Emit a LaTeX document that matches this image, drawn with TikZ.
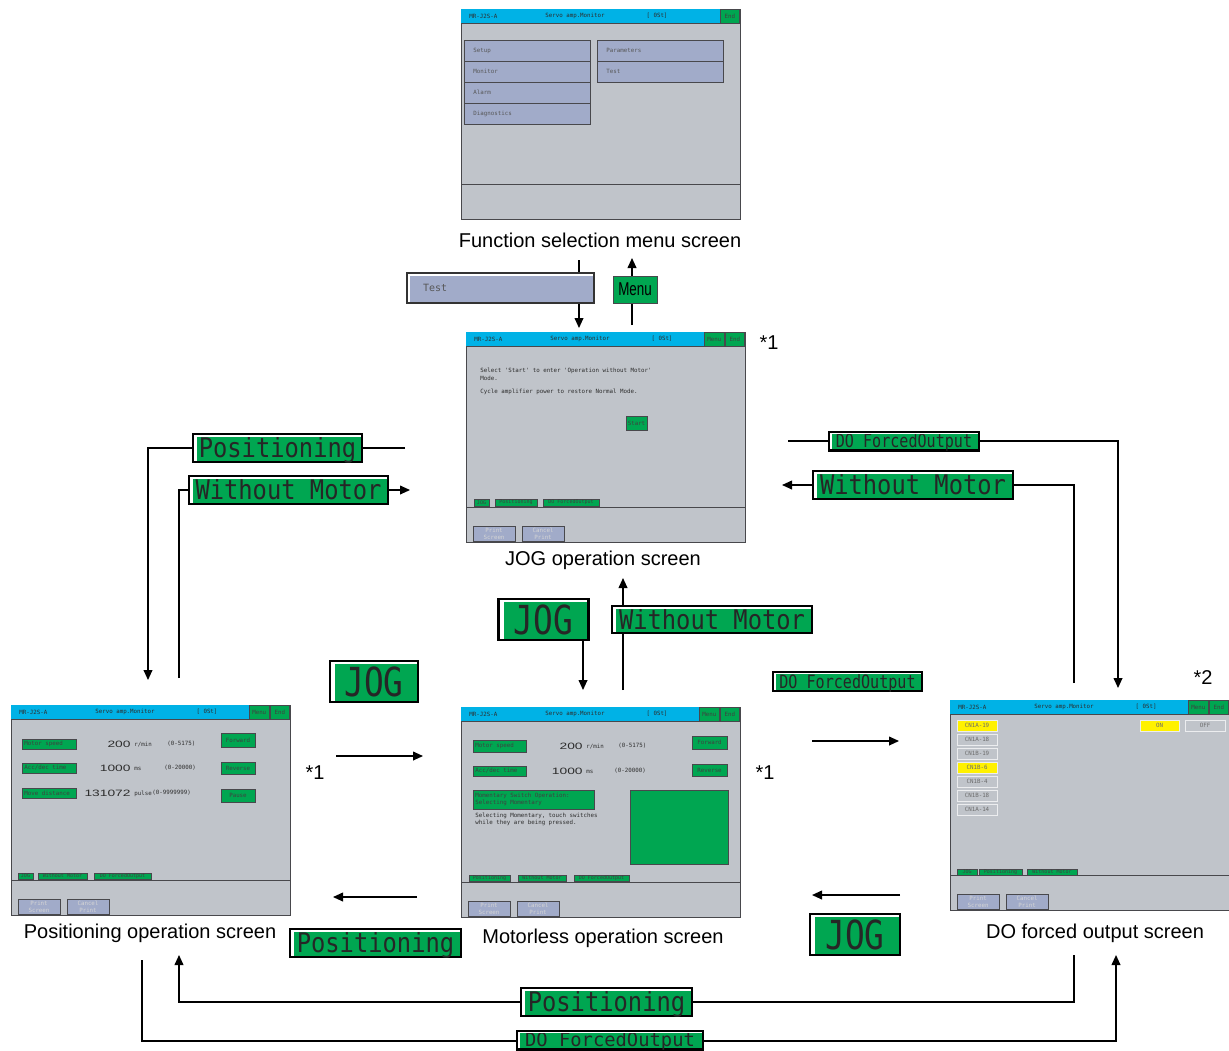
\documentclass[tikz,border=0pt]{standalone}
\usepackage{fontspec}
\setmainfont{Liberation Sans}
\newfontfamily\pixfont{DejaVu Sans Mono}
\newfontfamily\keyfont[FakeStretch=0.82]{DejaVu Sans Mono}
\newfontfamily\wordfont[FakeStretch=0.88]{DejaVu Sans Mono}
\newfontfamily\narrowfont[FakeStretch=0.72]{Liberation Sans}
\newfontfamily\numfont[FakeStretch=1.5]{Liberation Sans}
\usetikzlibrary{arrows.meta,calc,positioning}
\definecolor{hmiCyan}{RGB}{0,178,230}
\definecolor{hmiGray}{RGB}{192,196,202}
\definecolor{hmiEdge}{RGB}{72,72,76}
\definecolor{hmiGreen}{RGB}{0,166,81}
\definecolor{hmiBlue}{RGB}{161,171,201}
\definecolor{hmiYellow}{RGB}{255,241,0}
\definecolor{hmiInk}{RGB}{45,45,45}
\newcommand{\hmikey}[7][gkey]{%
  \path[#1] (#3,#4) rectangle (#5,#6);
  \node[#1 text] (#2) at ({(#3+#5)/2},{(#4+#6)/2}) {#7};
}
\newcommand{\hmikeyL}[7][gkey]{%
  \path[#1] (#3,#4) rectangle (#5,#6);
  \node[#1 text, anchor=west, align=left] (#2) at ({#3+2},{(#4+#6)/2}) {#7};
}
\newcommand{\hmiframe}[3]{% name, menu key, print keys
  \node[screen, anchor=north west] (#1) at (0,0) {};
  \fill[hmiCyan] (0.3,0.3) rectangle (278.7,14);
  \draw[hmiEdge, line width=0.3pt] (0,14) -- (279,14);
  \node[scrtxt, anchor=west] (#1-model) at (8,7) {MR-J2S-A};
  \node[scrtxt] (#1-head) at (114,7) {Servo amp.Monitor};
  \node[scrtxt] (#1-st) at (196,7) {[ 0St]};
  \hmikey{#1-end}{259}{0.5}{278.7}{14}{End}
  \ifnum#2=1 \hmikey{#1-menu}{238}{0.5}{258.5}{14}{Menu}\fi
  \draw[hmiEdge, line width=0.4pt] (0,175) -- (279,175);
  \ifnum#3=1
    \hmikey[pkey]{#1-print}{7}{194}{49}{209.5}{Print\\Screen}
    \hmikey[pkey]{#1-cancel}{56}{194}{98}{209.5}{Cancel\\Print}
  \fi
}
% white edge left/top of a touch key
\newcommand{\keyshine}[3]{% node, left strip, top strip
  \draw[white, line width=#2] ([xshift={0.6pt+0.5*#2},yshift=0.6pt]#1.south west)
    -- ([xshift={0.6pt+0.5*#2},yshift=-0.6pt]#1.north west);
  \draw[white, line width=#3] ([xshift=0.6pt,yshift={-0.6pt-0.5*#3}]#1.north west)
    -- ([xshift=-0.6pt,yshift={-0.6pt-0.5*#3}]#1.north east);
}
\tikzset{
  screen/.style={draw=hmiEdge, fill=hmiGray, line width=0.5pt, minimum width=139.5pt,
    minimum height=105pt, inner sep=0pt, outer sep=0pt},
  scrtxt/.style={inner sep=0pt, text=hmiInk, font=\pixfont\fontsize{2.9}{3.5}\selectfont},
  numtxt/.style={inner sep=0pt, text=hmiInk, font=\numfont\fontsize{4.6}{5}\selectfont},
  gkey/.style={fill=hmiGreen, draw=hmiEdge, line width=0.3pt},
  gkey text/.style={scrtxt, text=black!75},
  tkey/.style={gkey},
  tkey text/.style={scrtxt, text=black!75, font=\pixfont\fontsize{2.5}{3}\selectfont},
  mkey/.style={fill=hmiBlue, draw=hmiEdge, line width=0.4pt},
  mkey text/.style={scrtxt, text=hmiInk!80, xshift=3.5pt},
  pkey/.style={fill=hmiBlue, draw=hmiEdge, line width=0.4pt},
  pkey text/.style={scrtxt, text=white!80!hmiInk, align=center, font=\pixfont\fontsize{2.9}{3.2}\selectfont},
  ykey/.style={fill=hmiYellow, draw=white!70!hmiGray, line width=0.4pt},
  ykey text/.style={scrtxt, text=hmiInk!70},
  okey/.style={fill=hmiGray, draw=white!70!hmiGray, line width=0.4pt},
  okey text/.style={scrtxt, text=hmiInk!70},
  bigkey/.style={draw=black, fill=hmiGreen, line width=1.2pt, inner sep=0pt, outer sep=0pt, text=black!85},
  wordkey/.style={bigkey, font=\wordfont\fontsize{13.5}{14}\selectfont, text height=9.9pt, text depth=0pt,
    minimum height=14pt},
  jogkey/.style={bigkey, font=\keyfont\fontsize{20}{21}\selectfont, text height=14.6pt, text depth=0pt,
    minimum width=45pt, minimum height=20.5pt},
  dokey/.style={bigkey, font=\keyfont\fontsize{9.2}{10}\selectfont, text height=6.7pt, text depth=0pt,
    minimum width=75pt, minimum height=9.3pt},
  testkey/.style={fill=hmiBlue, draw=black!80, line width=0.8pt, outer sep=0pt, minimum height=15pt,
    text width=77.5pt, inner xsep=8pt, align=left, text=hmiInk!80, font=\pixfont\fontsize{5}{6}\selectfont},
  menukey/.style={fill=hmiGreen, draw=hmiEdge, line width=0.5pt, outer sep=0pt, minimum width=22pt,
    minimum height=13.5pt, inner sep=0pt, text=black, font=\narrowfont\fontsize{9.3}{10}\selectfont},
  caption/.style={inner sep=0pt, font=\fontsize{10}{12}\selectfont},
  link/.style={line width=0.7pt},
  arr/.style={link, -{Triangle[length=5pt,width=4.4pt]}},
}
\begin{document}
\begin{tikzpicture}[x=0.5pt,y=-0.5pt]
  \useasboundingbox (0,0) rectangle (1229,1050);

  % function selection menu
  \begin{scope}[shift={(461,9)}]
    \hmiframe{fsel}{0}{0}
    \foreach \t [count=\i from 0] in {Setup,Monitor,Alarm,Diagnostics}
      {\hmikeyL[mkey]{fsel-a\i}{3}{31+21*\i}{129}{52+21*\i}{\t}}
    \hmikeyL[mkey]{fsel-b0}{136}{31}{262}{52}{Parameters}
    \hmikeyL[mkey]{fsel-b1}{136}{52}{262}{73}{Test}
  \end{scope}
  \node[caption] (fsel-cap) at (600,240) {Function selection menu screen};

  % JOG operation
  \begin{scope}[shift={(466,332)}]
    \hmiframe{jog}{1}{1}
    \node[scrtxt, anchor=west] (jog-l1) at (14,39) {Select 'Start' to enter 'Operation without Motor'};
    \node[scrtxt, anchor=west] (jog-l2) at (14,46) {Mode.};
    \node[scrtxt, anchor=west] (jog-l3) at (14,60) {Cycle amplifier power to restore Normal Mode.};
    \hmikey{jog-start}{160}{84}{181}{98}{Start}
    \hmikey[tkey]{jog-t1}{8}{167}{23}{174}{JOG}
    \hmikey[tkey]{jog-t2}{29}{167}{71}{174}{Positioning}
    \hmikey[tkey]{jog-t3}{77}{167}{133}{174}{DO ForcedOutput}
  \end{scope}
  \node[caption] (jog-cap) at (603,560) {JOG operation screen};
  \node[caption] (jog-star) at (769,343) {*1};

  % positioning operation
  \begin{scope}[shift={(11,705)}]
    \hmiframe{pos}{1}{1}
    \hmikeyL{pos-k1}{11}{34}{65}{44}{Motor speed}
    \hmikeyL{pos-k2}{11}{58}{65}{68}{Acc/dec time}
    \hmikeyL{pos-k3}{11}{83}{65}{93}{Move distance}
    \node[numtxt, anchor=east] (pos-v1) at (120,39) {200};
    \node[scrtxt, anchor=west] (pos-u1) at (123,40) {r/min};
    \node[scrtxt, anchor=west] (pos-r1) at (156,39) {(0-5175)};
    \node[numtxt, anchor=east] (pos-v2) at (120,63) {1000};
    \node[scrtxt, anchor=west] (pos-u2) at (123,64) {ms};
    \node[scrtxt, anchor=west] (pos-r2) at (153,63) {(0-20000)};
    \node[numtxt, anchor=east] (pos-v3) at (120,88) {131072};
    \node[scrtxt, anchor=west] (pos-u3) at (123,89) {pulse};
    \node[scrtxt, anchor=west] (pos-r3) at (141,88) {(0-9999999)};
    \hmikey{pos-fwd}{210}{28}{244}{42}{Forward}
    \hmikey{pos-rev}{210}{57}{244}{69}{Reverse}
    \hmikey{pos-pause}{210}{84}{244}{97}{Pause}
    \hmikey[tkey]{pos-t1}{7}{168}{22}{174}{JOG}
    \hmikey[tkey]{pos-t2}{27}{168}{76}{174}{Without Motor}
    \hmikey[tkey]{pos-t3}{83}{168}{140}{174}{DO ForcedOutput}
  \end{scope}
  \node[caption] (pos-cap) at (150,933) {Positioning operation screen};

  % motorless operation
  \begin{scope}[shift={(461,707)}]
    \hmiframe{mless}{1}{1}
    \hmikeyL{mless-k1}{12}{33}{65}{45}{Motor speed}
    \hmikeyL{mless-k2}{12}{59}{65}{69}{Acc/dec time}
    \node[numtxt, anchor=east] (mless-v1) at (122,39) {200};
    \node[scrtxt, anchor=west] (mless-u1) at (125,40) {r/min};
    \node[scrtxt, anchor=west] (mless-r1) at (157,39) {(0-5175)};
    \node[numtxt, anchor=east] (mless-v2) at (122,64) {1000};
    \node[scrtxt, anchor=west] (mless-u2) at (125,65) {ms};
    \node[scrtxt, anchor=west] (mless-r2) at (153,64) {(0-20000)};
    \hmikey{mless-fwd}{231}{29}{266}{42}{Forward}
    \hmikey{mless-rev}{231}{57}{266}{69}{Reverse}
    \hmikeyL{mless-mom}{12}{83}{133}{102}{Momentary Switch Operation:\\Selecting Momentary}
    \node[scrtxt, anchor=north west, align=left] (mless-note) at (14,106) {Selecting Momentary, touch switches\\while they are being pressed.};
    \path[gkey, line width=0.5pt] (169,83) rectangle (267,157);
    \hmikey[tkey]{mless-t1}{8}{168}{49}{174}{Positioning}
    \hmikey[tkey]{mless-t2}{57}{168}{105}{174}{Without Motor}
    \hmikey[tkey]{mless-t3}{113}{168}{168}{174}{DO ForcedOutput}
  \end{scope}
  \node[caption] (mless-cap) at (603,938) {Motorless operation screen};
  \node[caption] (mless-star) at (315,773) {*1};
  \node[caption] (dofo-star1) at (765,773) {*1};

  % DO forced output
  \begin{scope}[shift={(950,700)}]
    \hmiframe{dofo}{1}{1}
    \hmikey[ykey]{dofo-c0}{7}{20}{47}{31}{CN1A-19}
    \hmikey[okey]{dofo-c1}{7}{34}{47}{45}{CN1A-18}
    \hmikey[okey]{dofo-c2}{7}{48}{47}{59}{CN1B-19}
    \hmikey[ykey]{dofo-c3}{7}{62}{47}{73}{CN1B-6}
    \hmikey[okey]{dofo-c4}{7}{76}{47}{87}{CN1B-4}
    \hmikey[okey]{dofo-c5}{7}{90}{47}{101}{CN1B-18}
    \hmikey[okey]{dofo-c6}{7}{104}{47}{115}{CN1A-14}
    \hmikey[ykey]{dofo-on}{190}{20}{229}{31}{ON}
    \hmikey[okey]{dofo-off}{235}{20}{275}{31}{OFF}
    \hmikey[tkey]{dofo-t1}{7}{169}{27}{175}{JOG}
    \hmikey[tkey]{dofo-t2}{29}{169}{72}{175}{Positioning}
    \hmikey[tkey]{dofo-t3}{77}{169}{127}{175}{Without Motor}
  \end{scope}
  \node[caption] (dofo-cap) at (1095,933) {DO forced output screen};
  \node[caption] (dofo-star2) at (1203,678) {*2};

  % connector ends
  \coordinate (tsA) at (579,260);  \coordinate (tsB) at (579,328);
  \coordinate (mnA) at (632,325);  \coordinate (mnB) at (632,258);
  \coordinate (plA) at (405,448);  \coordinate (plB) at (148,448);  \coordinate (plC) at (148,680);
  \coordinate (wlA) at (179,678);  \coordinate (wlB) at (179,490);  \coordinate (wlC) at (410,490);
  \coordinate (drA) at (788,441);  \coordinate (drB) at (1118,441); \coordinate (drC) at (1118,688);
  \coordinate (wrA) at (1074,683); \coordinate (wrB) at (1074,485); \coordinate (wrC) at (782,485);
  \coordinate (jmA) at (583,598);  \coordinate (jmB) at (583,690);
  \coordinate (wmA) at (623,690);  \coordinate (wmB) at (623,578);
  \coordinate (pbA) at (1074,955); \coordinate (pbB) at (1074,1002);
  \coordinate (pbC) at (179,1002); \coordinate (pbD) at (179,955);
  \coordinate (dbA) at (142,960);  \coordinate (dbB) at (142,1041);
  \coordinate (dbC) at (1116,1041); \coordinate (dbD) at (1116,955);

  \draw[arr] (tsA) -- (tsB);
  \draw[arr] (mnA) -- (mnB);
  \draw[arr] (plA) -- (plB) -- (plC);
  \draw[arr] (wlA) -- (wlB) -- (wlC);
  \draw[arr] (drA) -- (drB) -- (drC);
  \draw[arr] (wrA) -- (wrB) -- (wrC);
  \draw[arr] (jmA) -- (jmB);
  \draw[arr] (wmA) -- (wmB);
  \draw[arr] (pos.east |- 0,756) ++(46,0) -- (423,756);
  \draw[arr] (mless.west |- 0,897) ++(-44,0) -- (333,897);
  \draw[arr] (mless.east |- 0,741) ++(72,0) -- (899,741);
  \draw[arr] (dofo.west |- 0,895) ++(-50,0) -- (812,895);
  \draw[arr] (pbA) -- (pbB) -- (pbC) -- (pbD);
  \draw[arr] (dbA) -- (dbB) -- (dbC) -- (dbD);

  % touch keys
  \node[testkey] (kTest) at (500.5,288) {Test};
  \node[menukey] (kMenu) at (635,289.5) {Menu};
  \node[wordkey, minimum width=84.5pt] (kPosL) at (277.5,448) {Positioning};
  \node[wordkey, minimum width=99.5pt] (kWmL) at (288.5,490) {Without Motor};
  \node[dokey] (kDoR) at (904,441) {DO ForcedOutput};
  \node[wordkey, minimum width=100pt] (kWmR) at (913,485) {Without Motor};
  \node[jogkey] (kJogM) at (543.5,619.5) {JOG};
  \node[wordkey, minimum width=100pt, minimum height=13.5pt] (kWmM) at (712,619.5) {Without Motor};
  \node[jogkey, minimum width=44pt] (kJogL) at (374,681.5) {JOG};
  \node[wordkey, minimum width=85.5pt] (kPosM) at (375.5,943) {Positioning};
  \node[dokey, minimum width=74.5pt] (kDoM) at (847.5,681.5) {DO ForcedOutput};
  \node[jogkey] (kJogR) at (855,934.5) {JOG};
  \node[wordkey, minimum width=85.5pt] (kPosB) at (606.5,1002) {Positioning};
  \node[dokey, minimum width=93pt, font=\pixfont\fontsize{9.4}{10}\selectfont] (kDoB) at (610,1040) {DO ForcedOutput};

  \foreach \k in {kPosL,kWmL,kWmR,kWmM,kPosM,kPosB}
    {\keyshine{\k}{1.5pt}{0.7pt}}
  \foreach \k in {kJogM,kJogL,kJogR}
    {\keyshine{\k}{2pt}{1pt}}
  \foreach \k in {kDoR,kDoM,kDoB}
    {\keyshine{\k}{0.9pt}{0.4pt}}
  \keyshine{kTest}{0.7pt}{0.7pt}
\end{tikzpicture}
\end{document}
